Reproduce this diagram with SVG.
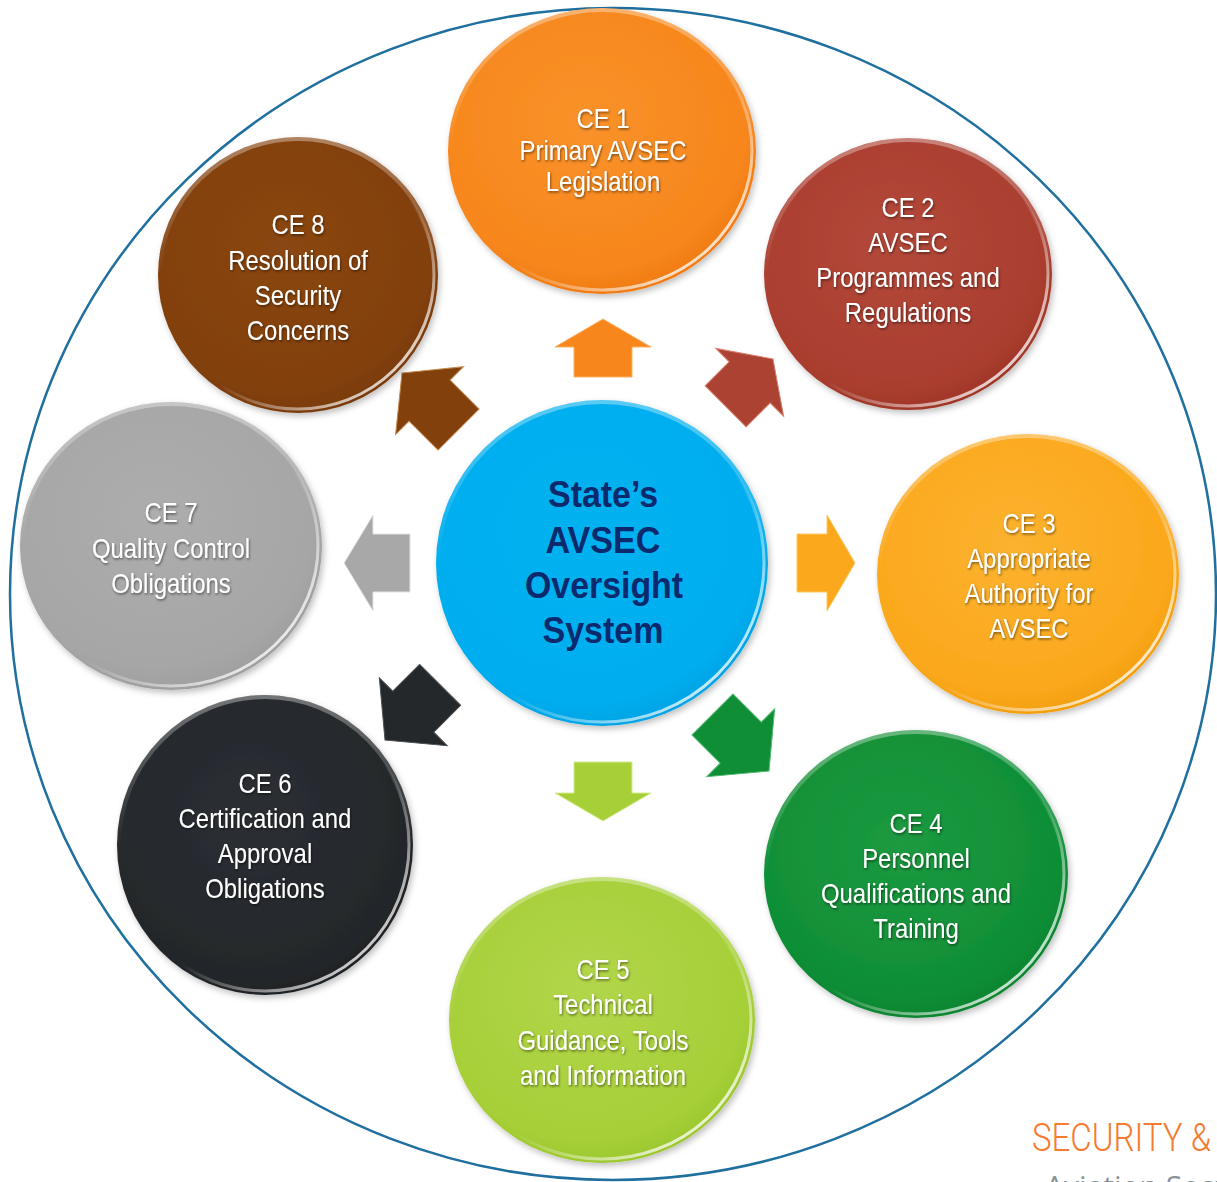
<svg xmlns="http://www.w3.org/2000/svg" width="1217" height="1182" viewBox="0 0 1217 1182">
<defs>
<style>
.lbl{font-family:"Liberation Sans",Arial,sans-serif;font-size:28.5px;fill:#ffffff;text-anchor:middle;filter:url(#tsh);transform-box:fill-box;transform-origin:center;transform:scaleX(0.84)}
.ctr{font-family:"Liberation Sans",Arial,sans-serif;font-weight:bold;font-size:37px;fill:#0b2a6e;text-anchor:middle}
.rim{fill:none;stroke:url(#rimG);stroke-width:3}
.toprim{fill:none;stroke:url(#rimT);stroke-width:4}
</style>
<filter id="sh" x="-20%" y="-20%" width="140%" height="140%"><feDropShadow dx="2" dy="3" stdDeviation="3" flood-color="#000" flood-opacity="0.25"/></filter>
<filter id="tsh" x="-10%" y="-30%" width="120%" height="160%"><feDropShadow dx="1" dy="1.5" stdDeviation="1.2" flood-color="#000" flood-opacity="0.5"/></filter>
<linearGradient id="rimG" x1="0.2" y1="0.2" x2="0.85" y2="0.85"><stop offset="0" stop-color="#fff" stop-opacity="0"/><stop offset="0.55" stop-color="#fff" stop-opacity="0"/><stop offset="1" stop-color="#fff" stop-opacity="0.75"/></linearGradient>
<linearGradient id="rimT" x1="0.5" y1="0" x2="0.5" y2="0.5"><stop offset="0" stop-color="#fff" stop-opacity="0.35"/><stop offset="1" stop-color="#fff" stop-opacity="0"/></linearGradient>
<radialGradient id="g1" cx="0.45" cy="0.4" r="0.65"><stop offset="0" stop-color="#f9922a"/><stop offset="0.8" stop-color="#f7861c"/><stop offset="1" stop-color="#ec7510"/></radialGradient>
<radialGradient id="g2" cx="0.45" cy="0.4" r="0.65"><stop offset="0" stop-color="#b3483a"/><stop offset="0.8" stop-color="#aa3e2f"/><stop offset="1" stop-color="#9a3224"/></radialGradient>
<radialGradient id="g3" cx="0.45" cy="0.4" r="0.65"><stop offset="0" stop-color="#fcb22f"/><stop offset="0.8" stop-color="#fba81c"/><stop offset="1" stop-color="#ee9a08"/></radialGradient>
<radialGradient id="g4" cx="0.45" cy="0.4" r="0.65"><stop offset="0" stop-color="#1c9a40"/><stop offset="0.8" stop-color="#0f8e36"/><stop offset="1" stop-color="#08802d"/></radialGradient>
<radialGradient id="g5" cx="0.45" cy="0.4" r="0.65"><stop offset="0" stop-color="#b2d64a"/><stop offset="0.8" stop-color="#a6cf38"/><stop offset="1" stop-color="#98c42a"/></radialGradient>
<radialGradient id="g6" cx="0.45" cy="0.4" r="0.65"><stop offset="0" stop-color="#2b2f33"/><stop offset="0.8" stop-color="#24282b"/><stop offset="1" stop-color="#1c2023"/></radialGradient>
<radialGradient id="g7" cx="0.45" cy="0.4" r="0.65"><stop offset="0" stop-color="#adadad"/><stop offset="0.8" stop-color="#a6a6a6"/><stop offset="1" stop-color="#9c9c9c"/></radialGradient>
<radialGradient id="g8" cx="0.45" cy="0.4" r="0.65"><stop offset="0" stop-color="#8a4612"/><stop offset="0.8" stop-color="#82400c"/><stop offset="1" stop-color="#763808"/></radialGradient>
<radialGradient id="gc" cx="0.45" cy="0.4" r="0.65"><stop offset="0" stop-color="#05b1ef"/><stop offset="0.8" stop-color="#00aeef"/><stop offset="1" stop-color="#0a9fe0"/></radialGradient>
</defs>
<rect width="1217" height="1182" fill="#ffffff"/>
<ellipse id="boundary" cx="613" cy="594" rx="603" ry="586" fill="none" stroke="#1f6f9f" stroke-width="2.5"/>

<g id="connectors">
<path transform="translate(603,319)" d="M0,0 L48,28 L29,28 L29,58 L-29,58 L-29,28 L-48,28 Z" fill="#f7861c" stroke="#fbb060" stroke-width="1"/>
<path transform="translate(773,359) rotate(45)" d="M0,0 L48,33 L29,33 L29,67 L-29,67 L-29,33 L-48,33 Z" fill="#ac4232" stroke="#d98070" stroke-width="1"/>
<path transform="translate(855,563) rotate(90)" d="M0,0 L48,28 L29,28 L29,58 L-29,58 L-29,28 L-48,28 Z" fill="#fba81c" stroke="#fdc860" stroke-width="1"/>
<path transform="translate(769,771) rotate(135)" d="M0,0 L48,40 L29,40 L29,80 L-29,80 L-29,40 L-48,40 Z" fill="#0f8e36" stroke="#50b870" stroke-width="1"/>
<path transform="translate(603,821) rotate(180)" d="M0,0 L48,28 L29,28 L29,59 L-29,59 L-29,28 L-48,28 Z" fill="#a6cf38" stroke="#d4ec90" stroke-width="1"/>
<path transform="translate(385,740) rotate(225)" d="M0,0 L48,40 L29,40 L29,78 L-29,78 L-29,40 L-48,40 Z" fill="#24282b" stroke="#4a5055" stroke-width="1"/>
<path transform="translate(344,563) rotate(270)" d="M0,0 L48,29 L29,29 L29,66 L-29,66 L-29,29 L-48,29 Z" fill="#a8a8a8" stroke="#e0e6ea" stroke-width="1"/>
<path transform="translate(402,373) rotate(315)" d="M0,0 L48,39 L29,39 L29,80 L-29,80 L-29,39 L-48,39 Z" fill="#82400c" stroke="#c48850" stroke-width="1"/>
</g>

<g id="node-ce1">
<ellipse cx="602" cy="151" rx="154" ry="143" fill="url(#g1)" filter="url(#sh)"/>
<ellipse cx="602" cy="151" rx="150" ry="139" class="rim"/>
<ellipse cx="602" cy="151" rx="152" ry="141" class="toprim"/>
<text class="lbl" x="603" y="128">CE 1</text>
<text class="lbl" x="603" y="160">Primary AVSEC</text>
<text class="lbl" x="603" y="191">Legislation</text>
</g>

<g id="node-ce2">
<ellipse cx="908" cy="274" rx="144" ry="136" fill="url(#g2)" filter="url(#sh)"/>
<ellipse cx="908" cy="274" rx="140" ry="132" class="rim"/>
<ellipse cx="908" cy="274" rx="142" ry="134" class="toprim"/>
<text class="lbl" x="908" y="217">CE 2</text>
<text class="lbl" x="908" y="252">AVSEC</text>
<text class="lbl" x="908" y="287">Programmes and</text>
<text class="lbl" x="908" y="322">Regulations</text>
</g>

<g id="node-ce3">
<ellipse cx="1028" cy="574" rx="151" ry="140" fill="url(#g3)" filter="url(#sh)"/>
<ellipse cx="1028" cy="574" rx="147" ry="136" class="rim"/>
<ellipse cx="1028" cy="574" rx="149" ry="138" class="toprim"/>
<text class="lbl" x="1029" y="533">CE 3</text>
<text class="lbl" x="1029" y="568">Appropriate</text>
<text class="lbl" x="1029" y="603">Authority for</text>
<text class="lbl" x="1029" y="638">AVSEC</text>
</g>

<g id="node-ce4">
<ellipse cx="916" cy="874" rx="152" ry="144" fill="url(#g4)" filter="url(#sh)"/>
<ellipse cx="916" cy="874" rx="148" ry="140" class="rim"/>
<ellipse cx="916" cy="874" rx="150" ry="142" class="toprim"/>
<text class="lbl" x="916" y="833">CE 4</text>
<text class="lbl" x="916" y="868">Personnel</text>
<text class="lbl" x="916" y="903">Qualifications and</text>
<text class="lbl" x="916" y="938">Training</text>
</g>

<g id="node-ce5">
<ellipse cx="602" cy="1020" rx="153" ry="143" fill="url(#g5)" filter="url(#sh)"/>
<ellipse cx="602" cy="1020" rx="149" ry="139" class="rim"/>
<ellipse cx="602" cy="1020" rx="151" ry="141" class="toprim"/>
<text class="lbl" x="603" y="979">CE 5</text>
<text class="lbl" x="603" y="1014">Technical</text>
<text class="lbl" x="603" y="1050">Guidance, Tools</text>
<text class="lbl" x="603" y="1085">and Information</text>
</g>

<g id="node-ce6">
<ellipse cx="265" cy="845" rx="148" ry="150" fill="url(#g6)" filter="url(#sh)"/>
<ellipse cx="265" cy="845" rx="144" ry="146" class="rim"/>
<ellipse cx="265" cy="845" rx="146" ry="148" class="toprim"/>
<text class="lbl" x="265" y="793">CE 6</text>
<text class="lbl" x="265" y="828">Certification and</text>
<text class="lbl" x="265" y="863">Approval</text>
<text class="lbl" x="265" y="898">Obligations</text>
</g>

<g id="node-ce7">
<ellipse cx="171" cy="546" rx="151" ry="144" fill="url(#g7)" filter="url(#sh)"/>
<ellipse cx="171" cy="546" rx="147" ry="140" class="rim"/>
<ellipse cx="171" cy="546" rx="149" ry="142" class="toprim"/>
<text class="lbl" x="171" y="522">CE 7</text>
<text class="lbl" x="171" y="558">Quality Control</text>
<text class="lbl" x="171" y="593">Obligations</text>
</g>

<g id="node-ce8">
<ellipse cx="298" cy="275" rx="140" ry="138" fill="url(#g8)" filter="url(#sh)"/>
<ellipse cx="298" cy="275" rx="136" ry="134" class="rim"/>
<ellipse cx="298" cy="275" rx="138" ry="136" class="toprim"/>
<text class="lbl" x="298" y="234">CE 8</text>
<text class="lbl" x="298" y="270">Resolution of</text>
<text class="lbl" x="298" y="305">Security</text>
<text class="lbl" x="298" y="340">Concerns</text>
</g>

<g id="node-center">
<ellipse cx="602" cy="563" rx="166" ry="163" fill="url(#gc)" filter="url(#sh)"/>
<ellipse cx="602" cy="563" rx="162" ry="159" class="rim"/>
<ellipse cx="602" cy="563" rx="164" ry="161" class="toprim"/>
<text class="ctr" x="603" y="507" textLength="110" lengthAdjust="spacingAndGlyphs">State’s</text>
<text class="ctr" x="603" y="553" textLength="115" lengthAdjust="spacingAndGlyphs">AVSEC</text>
<text class="ctr" x="604" y="598" textLength="158" lengthAdjust="spacingAndGlyphs">Oversight</text>
<text class="ctr" x="603" y="643" textLength="121" lengthAdjust="spacingAndGlyphs">System</text>
</g>

<text x="1032" y="1151" font-family="Roboto,'Liberation Sans',sans-serif" font-weight="300" font-size="38" fill="#f47b30" textLength="179" lengthAdjust="spacingAndGlyphs">SECURITY &amp;</text>
<text x="1045" y="1197" font-family="'Open Sans','Liberation Sans',sans-serif" font-size="30" fill="#8a9296">Aviation Secur</text>
</svg>
